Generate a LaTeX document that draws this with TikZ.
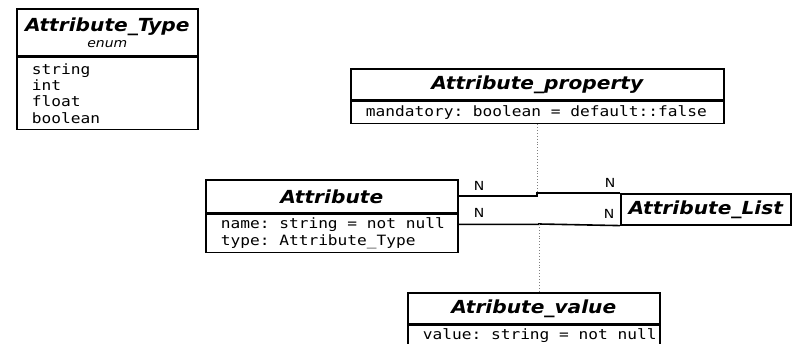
\documentclass[tikz,border=0pt]{standalone}
\usepackage{fontspec}
\newfontfamily\headfont{DejaVu Sans}[FakeStretch=1.12]
\newfontfamily\attrfont{DejaVu Sans Mono}[FakeStretch=1.14]
\newfontfamily\multfont{DejaVu Sans}[FakeStretch=1.12]
\usetikzlibrary{positioning}
\tikzset{
  classhead/.style={draw, line width=1.6pt, anchor=north west, inner sep=0pt,
    align=center, font=\headfont\bfseries\itshape\fontsize{18}{20}\selectfont},
  classbody/.style={draw, line width=1.6pt, anchor=north west, align=left,
    inner xsep=2pt, inner ysep=0pt,
    execute at begin node={\leftskip=13pt\frenchspacing\spaceskip=9.75pt\relax},
    font=\attrfont\fontsize{14.2}{16.4}\selectfont},
  assoc/.style={line width=1.6pt},
  link/.style={dotted, gray, line width=0.9pt},
  mult/.style={inner sep=0pt, font=\multfont\fontsize{12.5}{13}\selectfont}
}

\begin{document}
\begin{tikzpicture}[x=1pt, y=1pt]
    \useasboundingbox (0, 0) rectangle (793, -344);
    % enum
    \node[classhead, minimum width=181, minimum height=47](typeh) at (16, -8)
        {Attribute\_Type\\[-4pt]{\headfont\mdseries\itshape\fontsize{12.5}{13}\selectfont enum}};
    \node[classbody, text width=177, minimum height=72](typeb) at (typeh.south west)
        {string\\int\\float\\boolean};
    % classes
    \node[classhead, minimum width=373, minimum height=31](proph) at (350, -68){Attribute\_property};
    \node[classbody, text width=369, minimum height=22](propb) at (proph.south west)
        {mandatory: boolean = default::false};
    \node[classhead, minimum width=252, minimum height=33](attrh) at (205, -179){Attribute};
    \node[classbody, text width=248, minimum height=38](attrb) at (attrh.south west)
        {name: string = not null\\type: Attribute\_Type};
    \node[classhead, minimum width=170, minimum height=31](list) at (620, -193){Attribute\_List};
    \node[classhead, minimum width=252, minimum height=31](valh) at (407, -292){Atribute\_value};
    \node[classbody, text width=248, minimum height=20](valb) at (valh.south west)
        {value: string = not null};
    % associations
    \coordinate (up) at (537, -193);
    \coordinate (lo) at (539, -224);
    \draw[assoc](attrh.east) -| (up) -- (list.north west);
    \draw[assoc]([yshift=9pt]attrb.east) -| (lo) -- (list.south west);
    \draw[link](propb.south -| up) -- (up);
    \draw[link](lo) -- (lo |- valh.north);
    \node[mult](n1) at (479, -186){N};
    \node[mult](n2) at (479, -213){N};
    \node[mult](n3) at (610, -183){N};
    \node[mult](n4) at (609, -214){N};
\end{tikzpicture}
\end{document}
